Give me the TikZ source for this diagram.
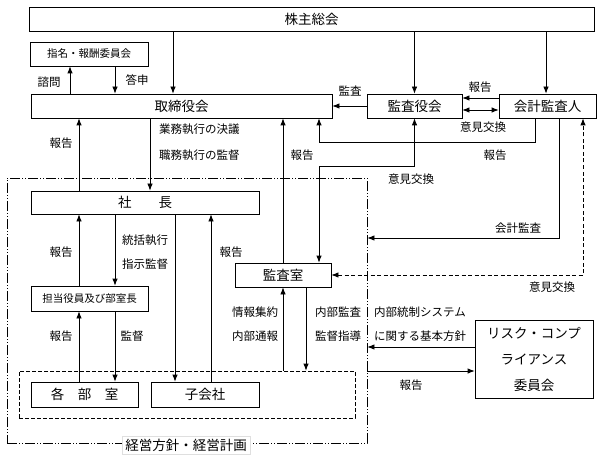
\documentclass[tikz,border=0pt]{standalone}
\usepackage{fontspec}
\setmainfont{Noto Sans CJK JP}
\usetikzlibrary{arrows.meta}
\tikzstyle{blk}=[draw, line width=0.8pt, inner sep=0pt, fill=white, font=\fontsize{13.5}{16}\selectfont]
\tikzstyle{sblk}=[blk, font=\fontsize{10.5}{12}\selectfont]
\tikzstyle{lbl}=[inner sep=1pt, font=\fontsize{11.5}{13}\selectfont]
\tikzstyle{arr}=[line width=0.8pt, -{Latex[length=7pt,width=5.5pt]}]
\tikzstyle{arrs}=[line width=0.8pt, {Latex[length=7pt,width=5.5pt]}-{Latex[length=7pt,width=5.5pt]}]
\tikzstyle{dashdotdot}=[line width=0.8pt, dash pattern=on 10pt off 2pt on 1pt off 2pt on 1pt off 2pt]
\newcommand{\blk}{\node[blk]}

\begin{document}
\begin{tikzpicture}[x=1pt,y=-1pt]
\useasboundingbox (0,0) rectangle (601,462);
\node[draw, dashdotdot, minimum width=360pt, minimum height=265pt] (keiei) at (187,310.5) {};
\node[draw, line width=0.8pt, dash pattern=on 4pt off 2pt, minimum width=336pt, minimum height=47pt] (bumon) at (187,394.5) {};
\node[fill=white, draw=gray!25, inner sep=3pt, font=\fontsize{13.5}{16}\selectfont] (hoshin) at (186,445) {経営方針・経営計画};

\blk[minimum width=565pt, minimum height=24pt] (kabu) at (311.5,19) {株主総会};
\node[sblk, minimum width=118pt, minimum height=24pt] (shimei) at (89,54) {指名・報酬委員会};
\blk[minimum width=301pt, minimum height=24pt] (tori) at (181.5,106) {取締役会};
\blk[minimum width=95pt, minimum height=24pt] (kansayaku) at (414.5,106) {監査役会};
\blk[minimum width=97pt, minimum height=24pt] (kaikei) at (547.5,106) {会計監査人};
\blk[minimum width=228pt, minimum height=23pt] (shacho) at (145,202.5) {社　　長};
\node[sblk, minimum width=117pt, minimum height=25pt] (tanto) at (89.5,298.5) {担当役員及び部室長};
\blk[minimum width=96pt, minimum height=24pt] (kansashitsu) at (283,275) {監査室};
\blk[minimum width=107pt, minimum height=25pt] (kakubu) at (84.5,394.5) {各　部　室};
\blk[minimum width=108pt, minimum height=25pt] (kogaisha) at (205,394.5) {子会社};
\blk[minimum width=118pt, minimum height=78pt, align=center, font=\fontsize{13.5}{26}\selectfont] (risk) at (534,359) {リスク・コンプ\\ライアンス\\委員会};

\draw[arr] (kabu.south -| 173,0) -- (tori.north -| 173,0);
\draw[arr] (kabu.south -| kansayaku) -- (kansayaku.north);
\draw[arr] (kabu.south -| 546,0) -- (kaikei.north -| 546,0);
\draw[arr] (tori.north -| 70,0) -- (shimei.south -| 70,0);
\draw[arr] (shimei.south -| 115,0) -- (tori.north -| 115,0);
\draw[arr] (kansayaku.west) -- (tori.east);
\draw[arr] (kaikei.west |- 0,98) -- (kansayaku.east |- 0,98);
\draw[arrs] (kansayaku.east |- 0,110) -- (kaikei.west |- 0,110);
\draw[arr] (kaikei.south -| 535,0) -- ++(0,24) -| (tori.south -| 319,0);
\draw[arrs] (kansayaku.south) -- ++(0,48) -| (kansashitsu.north -| 319,0);
\draw[arr] (kaikei.south -| 559,0) |- (keiei.east |- 0,238);
\draw[arrs, dash pattern=on 4pt off 2.5pt] (kansashitsu.east) -| (kaikei.south -| 583,0);
\draw[arr] (kansashitsu.north) -- (tori.south -| kansashitsu);
\draw[arr] (tori.south -| 150,0) -- (shacho.north -| 150,0);
\draw[arr] (shacho.north -| 79,0) -- (tori.south -| 79,0);
\draw[arr] (shacho.south -| 115,0) -- (tanto.north -| 115,0);
\draw[arr] (tanto.north -| 79,0) -- (shacho.south -| 79,0);
\draw[arr] (shacho.south -| 175,0) -- (kogaisha.north -| 175,0);
\draw[arr] (kogaisha.north -| 211,0) -- (shacho.south -| 211,0);
\draw[arr] (tanto.south -| 115,0) -- (kakubu.north -| 115,0);
\draw[arr] (kakubu.north -| 79,0) -- (tanto.south -| 79,0);
\draw[arr] (kansashitsu.south -| 306,0) -- (bumon.north -| 306,0);
\draw[arr] (bumon.north -| 283,0) -- (kansashitsu.south);
\draw[arr] (risk.west |- 0,347) -- (keiei.east |- 0,347);
\draw[arr] (keiei.east |- 0,371) -- (risk.west |- 0,371);

\node[lbl] (l1) at (49,82) {諮問};
\node[lbl] (l2) at (137,80) {答申};
\node[lbl] (l3) at (350,91) {監査};
\node[lbl] (l4) at (480,87) {報告};
\node[lbl] (l5) at (483,127) {意見交換};
\node[lbl] (l6) at (61,143) {報告};
\node[lbl, anchor=west] (l7) at (158,129) {業務執行の決議};
\node[lbl, anchor=west] (l8) at (158,155) {職務執行の監督};
\node[lbl] (l9) at (302,155) {報告};
\node[lbl] (l10) at (495,155) {報告};
\node[lbl] (l11) at (411,179) {意見交換};
\node[lbl] (l12) at (518,228) {会計監査};
\node[lbl] (l13) at (552,287) {意見交換};
\node[lbl] (l14) at (61,252) {報告};
\node[lbl, anchor=west] (l15) at (121,240) {統括執行};
\node[lbl, anchor=west] (l16) at (121,264) {指示監督};
\node[lbl] (l17) at (231,252) {報告};
\node[lbl] (l18) at (255,312) {情報集約};
\node[lbl] (l19) at (255,336) {内部通報};
\node[lbl] (l20) at (61,336) {報告};
\node[lbl] (l21) at (132,336) {監督};
\node[lbl] (l22) at (338,312) {内部監査};
\node[lbl] (l23) at (338,336) {監督指導};
\node[lbl, anchor=west] (l24) at (373,312) {内部統制システム};
\node[lbl, anchor=west] (l25) at (373,336) {に関する基本方針};
\node[lbl] (l26) at (411,385) {報告};
\end{tikzpicture}
\end{document}
